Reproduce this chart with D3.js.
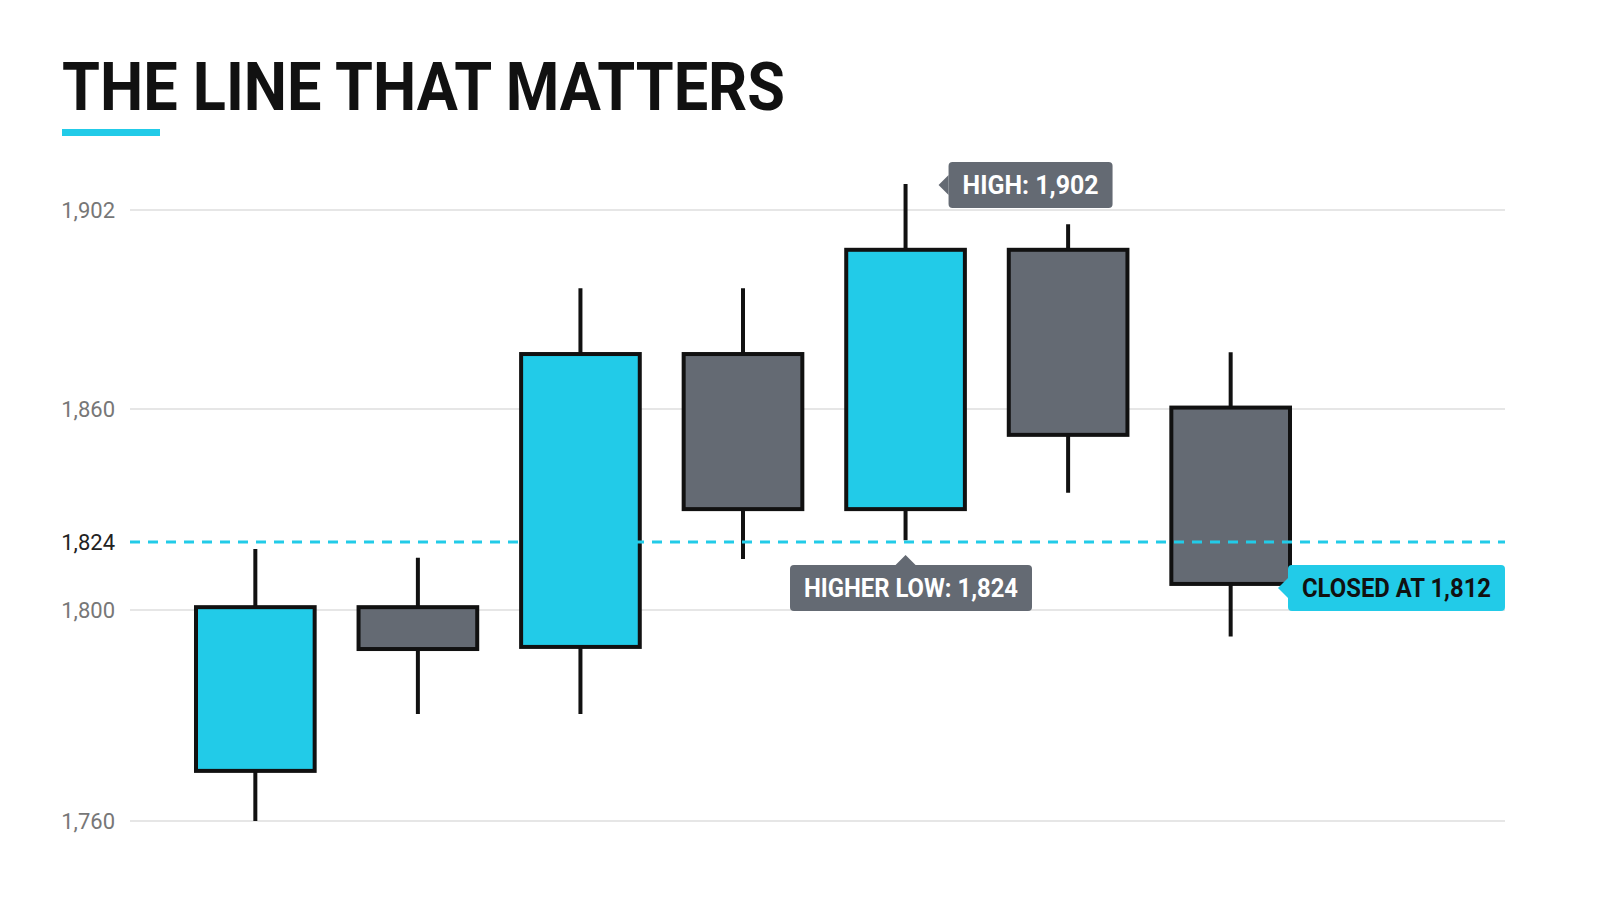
<!DOCTYPE html>
<html><head><meta charset="utf-8">
<script src="https://cdn.jsdelivr.net/npm/d3@7"></script>
<style>body{margin:0;background:#fff;font-family:Roboto,"Open Sans",sans-serif;}</style>
</head><body><div id="chart"></div>
<script>
// data
var days = ["D1","D2","D3","D4","D5","D6","D7"];
var opens  = [1769.5, 1801, 1793, 1871.6, 1832.9, 1893.6, 1860.3];
var closes = [1801, 1792.6, 1871.6, 1832.9, 1893.6, 1853, 1809.2];
var highs  = [1821.5, 1818.4, 1885.5, 1885.5, 1907.5, 1899, 1872];
var lows   = [1760, 1780.3, 1780.3, 1818, 1824.5, 1837.3, 1795];
var ticks = [1760, 1800, 1824, 1860, 1902];
var pivot = 1824;

var width = 1600, height = 914;
var cyan = "#22cbe8", grey = "#646a73";

var svg = d3.select("#chart").append("svg").attr("width", width).attr("height", height);

// axis labels are not evenly spaced in the picture, so a piecewise scale
var y = d3.scaleLinear().domain(ticks).range([821, 610, 542, 409, 210]);
var x = d3.scaleBand().domain(days).range([196, 1290]).paddingInner(0.27).paddingOuter(0);

// title
svg.append("text").attr("x", 62).attr("y", 110)
  .attr("font-size", 66).attr("font-weight", 700).attr("fill", "#111")
  .attr("textLength", 723).attr("lengthAdjust", "spacingAndGlyphs")
  .text("THE LINE THAT MATTERS");
svg.append("rect").attr("x", 62).attr("y", 129).attr("width", 98).attr("height", 7).attr("fill", cyan);

// grid
svg.selectAll(".grid").data(ticks.filter(function(d){ return d != pivot; })).enter()
  .append("line").attr("x1", 130).attr("x2", 1505)
  .attr("y1", function(d){ return y(d); }).attr("y2", function(d){ return y(d); })
  .attr("stroke", "#dedede").attr("stroke-width", 1.5);

svg.selectAll(".tl").data(ticks).enter().append("text")
  .attr("x", 115).attr("y", function(d){ return y(d) + 8; })
  .attr("text-anchor", "end").attr("font-size", 22)
  .attr("fill", function(d){ return d == pivot ? "#222" : "#777"; })
  .text(function(d){ return d3.format(",")(d); });

// candles
var g = svg.selectAll(".c").data(days).enter().append("g");
g.append("line")
  .attr("x1", function(d){ return x(d) + x.bandwidth()/2; })
  .attr("x2", function(d){ return x(d) + x.bandwidth()/2; })
  .attr("y1", function(d,i){ return y(highs[i]); })
  .attr("y2", function(d,i){ return y(lows[i]); })
  .attr("stroke", "#111").attr("stroke-width", 4);
g.append("rect")
  .attr("x", function(d){ return x(d); })
  .attr("width", x.bandwidth())
  .attr("y", function(d,i){ return y(Math.max(opens[i], closes[i])); })
  .attr("height", function(d,i){ return y(Math.min(opens[i], closes[i])) - y(Math.max(opens[i], closes[i])); })
  .attr("fill", function(d,i){ return closes[i] > opens[i] ? cyan : grey; })
  .attr("stroke", "#111").attr("stroke-width", 4);

// pivot line
svg.append("line").attr("x1", 130).attr("x2", 1505).attr("y1", y(pivot)).attr("y2", y(pivot))
  .attr("stroke", cyan).attr("stroke-width", 3).attr("stroke-dasharray", "10,8");

function callout(bx, by, w, txt, fill, tcol, arrow) {
  var h = 46;
  svg.append("rect").attr("x", bx).attr("y", by).attr("width", w).attr("height", h)
    .attr("rx", 4).attr("fill", fill);
  var p;
  if (arrow == "left") p = [[bx, by + h/2 - 10], [bx - 10, by + h/2], [bx, by + h/2 + 10]];
  else p = [[arrow - 10, by], [arrow, by - 10], [arrow + 10, by]];
  svg.append("polygon").attr("points", p.join(" ")).attr("fill", fill);
  svg.append("text").attr("x", bx + w/2).attr("y", by + h/2 + 9)
    .attr("text-anchor", "middle").attr("font-size", 25).attr("font-weight", 700)
    .attr("fill", tcol).attr("textLength", w - 28).attr("lengthAdjust", "spacingAndGlyphs")
    .text(txt);
}
var hi = 4, lo = 4, last = 6;
callout(x(days[hi]) + x.bandwidth()/2 + 43, 162, 164, "HIGH: 1,902", grey, "#fff", "left");
callout(790, y(pivot) + 23, 242, "HIGHER LOW: 1,824", grey, "#fff", x(days[lo]) + x.bandwidth()/2);
callout(1288, y(pivot) + 23, 217, "CLOSED AT 1,812", cyan, "#111", "left");
</script></body></html>
